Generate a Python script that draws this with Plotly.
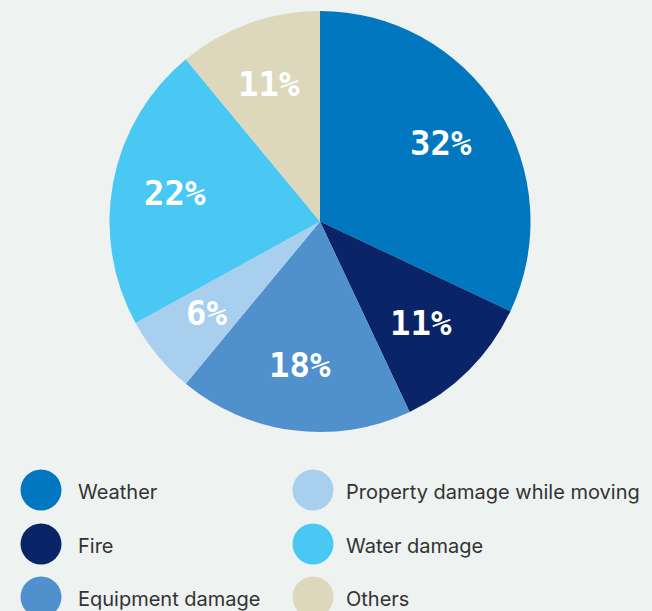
import math
import plotly.graph_objects as go

categories = ["Weather", "Fire", "Equipment damage", "Property damage while moving", "Water damage", "Others"]
shares = [32, 11, 18, 6, 22, 11]
colors = ["#0077be", "#0a2468", "#5090cc", "#a8cfee", "#4ac8f4", "#ddd8bc"]

W, H = 652, 611
BG = "#eef2f1"
CX, CY, R = 320, 221.5, 210.5

fig = go.Figure()
fig.add_trace(go.Pie(
    labels=categories, values=shares, sort=False, direction="clockwise", rotation=0,
    marker=dict(colors=colors, line=dict(width=0)),
    textinfo="none",
    domain=dict(x=[(CX - R) / W, (CX + R) / W], y=[1 - (CY + R) / H, 1 - (CY - R) / H]),
    showlegend=False, hoverinfo="label+percent",
))

# percentage labels placed at the slice mid-angle
total = sum(shares)
cum = 0
annotations = []
for v in shares:
    mid = (cum + v / 2) / total * 2 * math.pi
    cum += v
    r = 0.69 * R
    x = CX + r * math.sin(mid) - 2
    y = CY - r * math.cos(mid) - 1
    annotations.append(dict(
        x=x, y=y, xref="x", yref="y", text=f"{v}%", showarrow=False,
        xanchor="center", yanchor="middle",
        font=dict(family="DejaVu Sans Mono", size=34, color="white", weight="bold"),
    ))

# custom legend: two columns, three rows
col_x = [41, 313]
text_x = [76, 344]
row_y = [490, 544, 597]
lx, ly = [], []
for i, name in enumerate(categories):
    c = i // 3
    r = i % 3
    lx.append(col_x[c]); ly.append(row_y[r])
    annotations.append(dict(
        x=text_x[c], y=row_y[r] + 2, xref="x", yref="y", text=name, showarrow=False,
        xanchor="left", yanchor="middle",
        font=dict(family="Inter", size=20, color="#333333"),
    ))
fig.add_trace(go.Scatter(
    x=lx, y=ly, mode="markers", xaxis="x", yaxis="y",
    marker=dict(size=41, color=colors, line=dict(width=0)),
    showlegend=False, hoverinfo="skip",
))

fig.update_layout(
    width=W, height=H, margin=dict(l=0, r=0, t=0, b=0),
    paper_bgcolor=BG, plot_bgcolor=BG,
    xaxis=dict(range=[0, W], visible=False, fixedrange=True),
    yaxis=dict(range=[H, 0], visible=False, fixedrange=True),
    annotations=annotations,
)
fig.write_html("out.html")
